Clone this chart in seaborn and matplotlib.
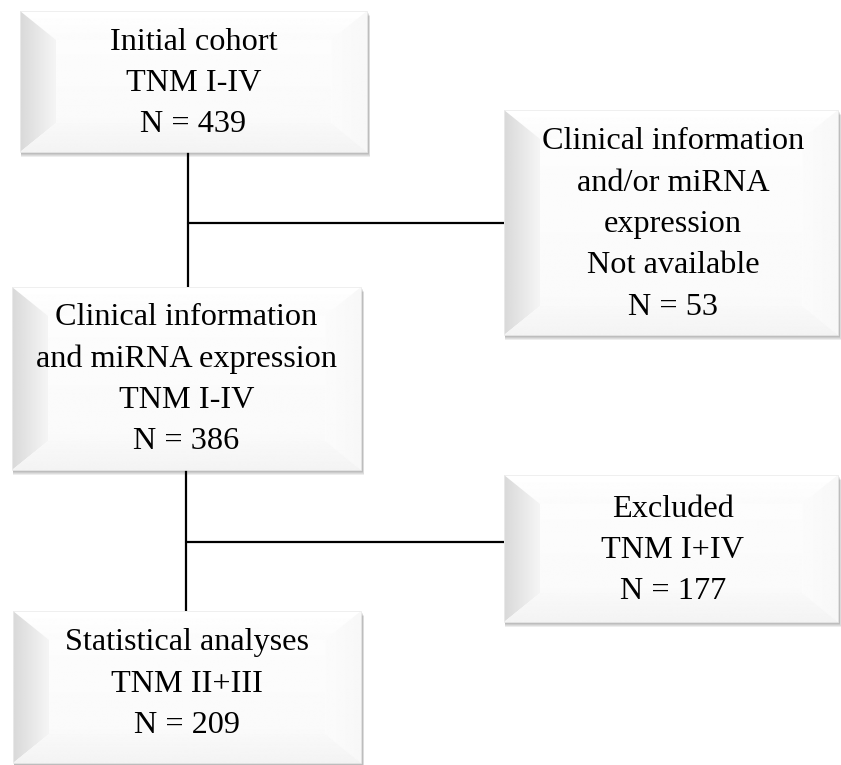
import numpy as np
import pandas as pd
import seaborn as sns
import matplotlib.pyplot as plt
from matplotlib.patches import Polygon, Rectangle

# Flowchart content
box_titles = [["Initial cohort"],
              ["Clinical information", "and/or miRNA", "expression", "Not available"],
              ["Clinical information", "and miRNA expression"],
              ["Excluded"],
              ["Statistical analyses"]]
box_stages = ["TNM I-IV", None, "TNM I-IV", "TNM I+IV", "TNM II+III"]
box_counts = [439, 53, 386, 177, 209]

# layout in pixels (left, top, right, bottom)
box_geom = [(20, 11, 367, 152),
            (504, 110, 838, 335),
            (12, 287, 361, 470),
            (504, 475, 838, 622),
            (13, 611, 361, 763)]
text_dy = [0, 0, -1, 0, -5]
# connectors: (stem x, from box, to box, side box, branch y)
links = [(188, 0, 2, 1, 223),
         (186, 2, 4, 3, 542)]

sns.set_style("white")
plt.rcParams['font.family'] = ['Liberation Serif', 'DejaVu Serif']

fig = plt.figure(figsize=(8.41, 7.65), dpi=100)
ax = fig.add_axes([0, 0, 1, 1])
W, H = 841, 765


def grad_patch(ax, verts, c0, c1, horizontal=True, z=3):
    poly = Polygon(verts, closed=True, facecolor='none', edgecolor='none')
    ax.add_patch(poly)
    xs = [v[0] for v in verts]
    ys = [v[1] for v in verts]
    g = np.linspace(c0, c1, 64)
    img = g[None, :] if horizontal else g[:, None]
    im = ax.imshow(img, cmap='gray', vmin=0, vmax=1, aspect='auto',
                   extent=[min(xs), max(xs), max(ys), min(ys)],
                   origin='upper', zorder=z, interpolation='bilinear')
    im.set_clip_path(poly)


def draw_box(ax, l, t, r, b, dx=36, dy=29):
    # soft shadow, mostly below the box
    for k in range(1, 6):
        ax.add_patch(Rectangle((l + 1, t + k), r - l + k * 0.4, b - t,
                               facecolor='black', alpha=0.07, edgecolor='none', zorder=1))
    ax.add_patch(Rectangle((l, t), r - l, b - t, facecolor='white',
                           edgecolor='none', zorder=2))
    # face
    grad_patch(ax, [(l + dx, t + dy), (r - dx, t + dy), (r - dx, b - dy), (l + dx, b - dy)],
               0.99, 0.98, horizontal=False)
    # bevels
    grad_patch(ax, [(l, t), (r, t), (r - dx, t + dy), (l + dx, t + dy)], 1.0, 0.985, horizontal=False)
    grad_patch(ax, [(l, t), (l + dx, t + dy), (l + dx, b - dy), (l, b)], 0.85, 0.96)
    grad_patch(ax, [(r, t), (r, b), (r - dx, b - dy), (r - dx, t + dy)], 0.985, 0.97)
    grad_patch(ax, [(l, b), (l + dx, b - dy), (r - dx, b - dy), (r, b)], 0.975, 0.955, horizontal=False)
    ax.add_patch(Rectangle((l, t), r - l, b - t, facecolor='none',
                           edgecolor='#ececec', linewidth=0.6, zorder=4))


for i, (l, t, r, b) in enumerate(box_geom):
    draw_box(ax, l, t, r, b)
    lines = list(box_titles[i])
    if box_stages[i]:
        lines.append(box_stages[i])
    lines.append(f"N = {box_counts[i]}")
    cy = (t + b) / 2 - 1.5 + text_dy[i]
    cx = (l + r) / 2 + (2 if l > 400 else 0)
    n = len(lines)
    for j, txt in enumerate(lines):
        y = cy + (j - (n - 1) / 2) * 41.3
        ax.text(cx, y, txt, ha='center', va='center_baseline', fontsize=23.2,
                color='black', zorder=6)

# connector segments
rows = []
k = 0
for sx, a, c, s, by in links:
    rows += [(k, sx, box_geom[a][3]), (k, sx, box_geom[c][1])]
    k += 1
    rows += [(k, sx, by), (k, box_geom[s][0], by)]
    k += 1
seg = pd.DataFrame(rows, columns=['seg', 'x', 'y'])
sns.lineplot(data=seg, x='x', y='y', units='seg', estimator=None, sort=False,
             color='black', linewidth=1.6, ax=ax, zorder=0.5)

ax.set_xlim(0, W)
ax.set_ylim(H, 0)
ax.axis('off')
fig.savefig('out.png', dpi=100, facecolor='white')
